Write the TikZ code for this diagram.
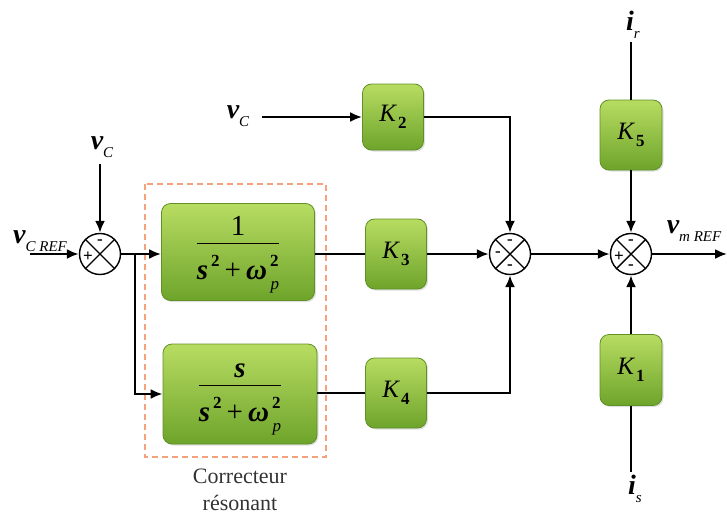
\documentclass[tikz,border=0pt]{standalone}
\usepackage{fontspec}
\setmainfont{Liberation Serif}
\newfontfamily\tms{Liberation Serif}
\usetikzlibrary{arrows.meta,shadows}
\definecolor{gtop}{HTML}{B8DC62}
\definecolor{gbot}{HTML}{6EA42B}
\definecolor{gedge}{HTML}{5F9126}
\definecolor{dashc}{HTML}{F4A27C}
\newcommand{\bv}[2]{{\tms\bfseries\itshape #1}\raisebox{-0.6ex}{\tms\fontsize{15}{15}\selectfont\itshape #2}}
\newcommand{\kk}[1]{{\tms\itshape K}\kern2pt\raisebox{-0.6ex}{\tms\fontsize{17}{17}\selectfont\bfseries #1}}
\newcommand{\sq}{\tms\fontsize{17}{17}\selectfont\bfseries 2}
\newcommand{\den}{{\tms\bfseries\itshape s}\kern3pt\raisebox{1.0ex}{\sq}\kern5pt{\tms +}\kern5pt{\tms\bfseries\itshape ω}\kern3pt\raisebox{1.0ex}{\sq}\kern-8pt\raisebox{-0.7ex}{\tms\fontsize{17}{17}\selectfont\itshape p}}
\newcommand{\frc}[1]{\begin{tabular}{@{}c@{}}\raisebox{0pt}[0.85em][0.3em]{#1}\\[-2pt]\hline\rule{0pt}{1.25em}\den\end{tabular}}
\begin{document}
\begin{tikzpicture}[x=1pt,y=-1pt,
  blk/.style={draw=gedge, line width=0.8pt, rounded corners=9pt,
    top color=gtop, bottom color=gbot,
    drop shadow={shadow xshift=1.5pt,shadow yshift=-1.5pt,opacity=0.25},
    font=\tms\fontsize{25}{27}\selectfont, inner sep=0pt},
  frac/.style={blk, font=\tms\fontsize{29}{31}\selectfont},
  sumn/.style={circle, draw, line width=1.4pt, minimum size=41pt, inner sep=0pt, fill=white},
  wire/.style={line width=2.2pt},
  arr/.style={wire, -{Latex[length=12pt,width=10pt]}},
  lbl/.style={font=\fontsize{28}{30}\selectfont, inner sep=1pt},
  sgn/.style={font=\tms\fontsize{17}{17}\selectfont\bfseries, inner sep=0pt}
]
\useasboundingbox (0,0) rectangle (727,519);

% dashed box
\draw[dashc, line width=2.2pt, dash pattern=on 6pt off 4pt] (145,184) rectangle (326,457);
\node[font=\tms\fontsize{22}{24}\selectfont, align=center, text=black!80] (corr) at (240,490) {Correcteur\\[3pt]résonant};

% summers
\node[sumn] (s1) at (100,254) {};
\node[sumn] (s2) at (510,254) {};
\node[sumn] (s3) at (631,254) {};
\foreach \s in {s1,s2,s3}{
  \draw[line width=1.4pt] (\s.45) -- (\s.225) (\s.135) -- (\s.315);
}
\node[sgn] (p1t) at (100,242) {-};
\node[sgn] (p1l) at (88,257) {+};
\node[sgn] (p2t) at (510,242) {-};
\node[sgn] (p2l) at (498,254) {-};
\node[sgn] (p2b) at (510,267) {-};
\node[sgn] (p3t) at (631,242) {-};
\node[sgn] (p3l) at (619,257) {+};
\node[sgn] (p3b) at (631,267) {-};

% blocks
\node[frac, minimum width=153pt, minimum height=97pt] (B1) at (238,252) {\frc{1}};
\node[frac, minimum width=154pt, minimum height=100pt] (B2) at (240,394) {\frc{\bfseries\itshape s}};
\node[blk, minimum width=61pt, minimum height=66pt] (K2) at (393,117) {\kk{2}};
\node[blk, minimum width=61pt, minimum height=70pt] (K3) at (396,254) {\kk{3}};
\node[blk, minimum width=61pt, minimum height=70pt] (K4) at (396,393) {\kk{4}};
\node[blk, minimum width=62pt, minimum height=70pt] (K5) at (631,135) {\kk{5}};
\node[blk, minimum width=62pt, minimum height=71pt] (K1) at (631,370) {\kk{1}};

% labels
\node[lbl] (vc1) at (102,147) {\bv{v}{C}};
\node[lbl] (vcref) at (40,241) {\bv{v}{C REF}};
\node[lbl] (vc2) at (238,116) {\bv{v}{C}};
\node[lbl] (vmref) at (694,231) {\bv{v}{m REF}};
\node[lbl] (ir) at (633,25) {\bv{i}{r}};
\node[lbl] (is) at (635,489) {\bv{i}{s}};

% coordinates
\coordinate (in1) at (30,254);
\coordinate (br) at (135,254);
\coordinate (vc2e) at (262,117);
\coordinate (vc1b) at (100,164);
\coordinate (out) at (727,254);
\coordinate (irb) at (631,42);
\coordinate (ist) at (631,472);

% connectors
\draw[arr] (vc1b) -- (s1.north);
\draw[arr] (in1) -- (s1.west);
\draw[arr] (s1.east) -- (B1.west |- s1.east);
\draw[arr] (br) |- (B2.west);
\draw[wire] (B1.east |- K3.west) -- (K3.west);
\draw[wire] (B2.east |- K4.west) -- (K4.west);
\draw[arr] (vc2e) -- (K2.west);
\draw[arr] (K2.east) -| (s2.north);
\draw[arr] (K3.east) -- (s2.west);
\draw[arr] (K4.east) -| (s2.south);
\draw[arr] (s2.east) -- (s3.west);
\draw[arr] (s3.east) -- (out);
\draw[wire] (irb) -- (K5.north);
\draw[arr] (K5.south) -- (s3.north);
\draw[wire] (ist) -- (K1.south);
\draw[arr] (K1.north) -- (s3.south);
\end{tikzpicture}
\end{document}
